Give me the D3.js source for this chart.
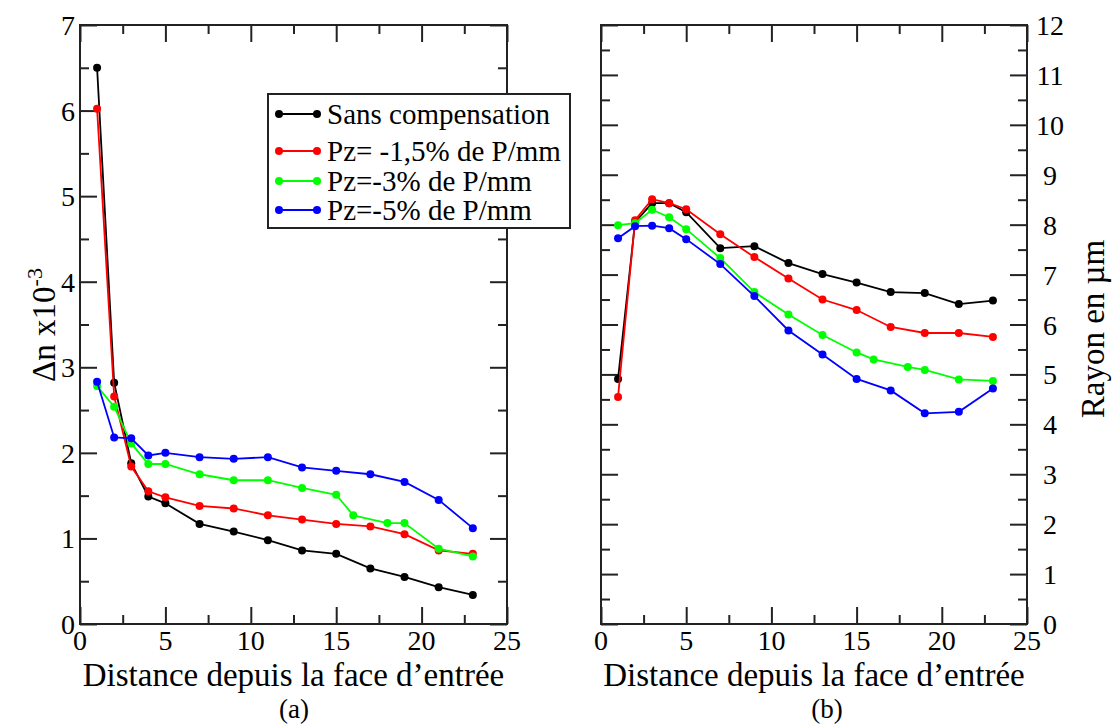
<!DOCTYPE html>
<html>
<head>
<meta charset="utf-8">
<script src="https://cdn.jsdelivr.net/npm/d3@7"></script>
<style>
  body { margin: 0; background: #fff; }
  text { font-family: "Liberation Serif", "Times New Roman", serif; fill: #000; }
</style>
</head>
<body>
<div id="canvas"></div>
<script>
"use strict";

// Canvas
let svgWidth = 1112;
let svgHeight = 724;

// Data
let xMain = [1, 2, 3, 4, 5, 7, 9, 11, 13, 15, 17, 19, 21, 23];
let xGreen = [1, 2, 3, 4, 5, 7, 9, 11, 13, 15, 16, 18, 19, 21, 23];

let seriesNames = ["Sans compensation", "Pz= -1,5% de P/mm", "Pz=-3% de P/mm", "Pz=-5% de P/mm"];
let seriesColors = ["#000000", "#ff0000", "#00ff00", "#0000ff"];

// (a) delta n x10^-3
let dnBlack = [6.5, 2.82, 1.88, 1.49, 1.41, 1.17, 1.08, 0.98, 0.86, 0.82, 0.65, 0.55, 0.43, 0.34];
let dnRed = [6.02, 2.66, 1.84, 1.55, 1.48, 1.38, 1.35, 1.27, 1.22, 1.17, 1.14, 1.05, 0.86, 0.82];
let dnGreen = [2.78, 2.54, 2.11, 1.87, 1.87, 1.75, 1.68, 1.68, 1.59, 1.51, 1.27, 1.18, 1.18, 0.88, 0.79];
let dnBlue = [2.83, 2.18, 2.17, 1.97, 2.0, 1.95, 1.93, 1.95, 1.83, 1.79, 1.75, 1.66, 1.45, 1.12];

// (b) rayon en um
let rBlack = [4.91, 8.05, 8.43, 8.43, 8.25, 7.53, 7.57, 7.23, 7.01, 6.84, 6.65, 6.63, 6.41, 6.48];
let rRed = [4.55, 8.09, 8.51, 8.43, 8.31, 7.81, 7.35, 6.92, 6.5, 6.29, 5.95, 5.83, 5.83, 5.75];
let rGreen = [7.99, 8.03, 8.3, 8.15, 7.91, 7.33, 6.65, 6.2, 5.79, 5.44, 5.3, 5.15, 5.09, 4.9, 4.87];
let rBlue = [7.73, 7.97, 7.98, 7.93, 7.71, 7.21, 6.57, 5.88, 5.4, 4.91, 4.68, 4.22, 4.25, 4.72];

let xTicks = [0, 5, 10, 15, 20, 25];
let yTicksA = [0, 1, 2, 3, 4, 5, 6, 7];
let yTicksB = [0, 1, 2, 3, 4, 5, 6, 7, 8, 9, 10, 11, 12];

let xTitle = "Distance depuis la face d\u2019entr\u00e9e";

let svg = d3.select("#canvas")
    .append("svg")
    .attr("width", svgWidth)
    .attr("height", svgHeight);

let plotTop = 25, plotBottom = 624;
let majorLen = 17, minorLen = 9;

function drawPanel(opts) {
    let x = d3.scaleLinear().domain([0, 25]).range([opts.left, opts.right]);
    let y = d3.scaleLinear().domain([0, opts.yMax]).range([plotBottom, plotTop]);
    let g = svg.append("g");

    let xMinor = d3.range(0, 25.01, 2.5).filter(v => v % 5 !== 0);
    let yMinor = d3.range(0.5, opts.yMax, 1);
    let sides = [
        [() => d3.axisBottom(x), "translate(0," + plotBottom + ")", xMinor, xTicks],
        [() => d3.axisTop(x), "translate(0," + plotTop + ")", xMinor, xTicks],
        [() => d3.axisLeft(y), "translate(" + opts.left + ",0)", yMinor, opts.yTicks],
        [() => d3.axisRight(y), "translate(" + opts.right + ",0)", yMinor, opts.yTicks]
    ];
    sides.forEach(a => {
        // minor ticks, then major ticks, all pointing inward
        g.append("g").attr("transform", a[1])
            .call(a[0]().tickValues(a[2]).tickSize(-minorLen).tickFormat(""))
            .call(s => s.select(".domain").remove());
        g.append("g").attr("transform", a[1])
            .call(a[0]().tickValues(a[3]).tickSize(-majorLen).tickFormat(""))
            .call(s => s.select(".domain").remove());
    });
    g.selectAll(".tick line").attr("stroke", "#222").attr("stroke-width", 2);

    // frame
    g.append("rect")
        .attr("x", opts.left).attr("y", plotTop)
        .attr("width", opts.right - opts.left).attr("height", plotBottom - plotTop)
        .attr("fill", "none").attr("stroke", "#222").attr("stroke-width", 2);

    // x tick labels
    g.selectAll("text.xl").data(xTicks).join("text")
        .attr("class", "xl")
        .attr("x", d => x(d)).attr("y", plotBottom + 26)
        .attr("text-anchor", "middle")
        .style("font-size", "28px")
        .text(d => d);

    // y tick labels
    g.selectAll("text.yl").data(opts.yTicks).join("text")
        .attr("class", "yl")
        .attr("x", opts.yLabelX).attr("y", d => y(d) + 10)
        .attr("text-anchor", "middle")
        .style("font-size", "28px")
        .text(d => d);

    // x title
    g.append("text")
        .attr("x", (opts.left + opts.right) / 2).attr("y", plotBottom + 62)
        .attr("text-anchor", "middle")
        .style("font-size", "33px")
        .text(xTitle);

    g.append("text")
        .attr("x", opts.tagX).attr("y", plotBottom + 94)
        .attr("text-anchor", "middle")
        .style("font-size", "27px")
        .text(opts.tag);

    // series
    let line = d3.line().x(d => x(d[0])).y(d => y(d[1]));
    opts.series.forEach((s, i) => {
        let pts = s.xs.map((v, j) => [v, s.ys[j]]);
        g.append("path")
            .attr("d", line(pts))
            .attr("fill", "none")
            .attr("stroke", seriesColors[i])
            .attr("stroke-width", 1.8);
        g.selectAll("circle.s" + i).data(pts).join("circle")
            .attr("class", "s" + i)
            .attr("cx", d => x(d[0])).attr("cy", d => y(d[1]))
            .attr("r", 4)
            .attr("fill", seriesColors[i]);
    });
    return g;
}

drawPanel({
    left: 80, right: 507, yMax: 7, yTicks: yTicksA, yLabelX: 68, tag: "(a)", tagX: 294,
    series: [
        {xs: xMain, ys: dnBlack},
        {xs: xMain, ys: dnRed},
        {xs: xGreen, ys: dnGreen},
        {xs: xMain, ys: dnBlue}
    ]
});

drawPanel({
    left: 601, right: 1027, yMax: 12, yTicks: yTicksB, yLabelX: 1050, tag: "(b)", tagX: 827,
    series: [
        {xs: xMain, ys: rBlack},
        {xs: xMain, ys: rRed},
        {xs: xGreen, ys: rGreen},
        {xs: xMain, ys: rBlue}
    ]
});

// Y titles
let yTitleA = svg.append("text")
    .attr("transform", "translate(55,325) rotate(-90)")
    .attr("text-anchor", "middle")
    .style("font-size", "33px");
yTitleA.append("tspan").text("\u0394n x10");
yTitleA.append("tspan").attr("dy", -13).style("font-size", "22px").text("-3");

svg.append("text")
    .attr("transform", "translate(1104,329) rotate(-90)")
    .attr("text-anchor", "middle")
    .style("font-size", "33px")
    .text("Rayon en \u00b5m");

// Legend
let legX = 268, legY = 94;
svg.append("rect")
    .attr("x", legX).attr("y", legY)
    .attr("width", 302).attr("height", 134)
    .attr("fill", "#fff").attr("stroke", "#222").attr("stroke-width", 2);

let legRows = [114, 151, 181, 210];
seriesNames.forEach((name, i) => {
    let ly = legRows[i];
    svg.append("line")
        .attr("x1", 279).attr("x2", 317).attr("y1", ly).attr("y2", ly)
        .attr("stroke", seriesColors[i]).attr("stroke-width", 1.8);
    [279, 317].forEach(cx => svg.append("circle")
        .attr("cx", cx).attr("cy", ly).attr("r", 4).attr("fill", seriesColors[i]));
    svg.append("text")
        .attr("x", 327).attr("y", ly + 10)
        .style("font-size", "29px")
        .text(name);
});
</script>
</body>
</html>
